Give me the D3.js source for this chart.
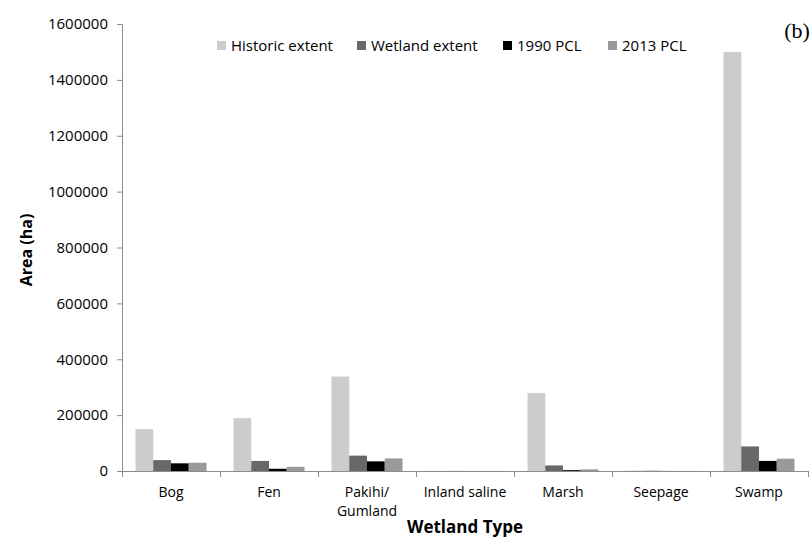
<!DOCTYPE html>
<html>
<head>
<meta charset="utf-8">
<script src="https://cdn.jsdelivr.net/npm/d3@7"></script>
<style>
  html, body { margin: 0; padding: 0; background: #fff; }
  svg { display: block; }
  text { font-family: "Open Sans", Lato, sans-serif; fill: #000; }
</style>
</head>
<body>
<svg id="chart" width="811" height="537"></svg>
<script>
const categories = ["Bog", "Fen", "Pakihi/\nGumland", "Inland saline", "Marsh", "Seepage", "Swamp"];
const seriesNames = ["Historic extent", "Wetland extent", "1990 PCL", "2013 PCL"];
const historicExtent = [150000, 189000, 338000, 800, 279000, 1500, 1500000];
const wetlandExtent = [39000, 36000, 55000, 400, 20000, 1000, 88000];
const pcl1990 = [27500, 8000, 34500, 100, 3000, 200, 36000];
const pcl2013 = [29600, 15000, 45000, 200, 6000, 400, 44000];
const yTicks = [0, 200000, 400000, 600000, 800000, 1000000, 1200000, 1400000, 1600000];
const colors = ["#cccccc", "#686868", "#000000", "#9a9a9a"];

const seriesValues = [historicExtent, wetlandExtent, pcl1990, pcl2013];

const svg = d3.select("#chart");
const mLeft = 122, mRight = 808, mTop = 24, mBottom = 471;

const x0 = d3.scaleBand().domain(categories).range([mLeft, mRight]).paddingInner(0).paddingOuter(0);
const x1 = d3.scaleBand().domain(seriesNames).range([0, x0.bandwidth()]).paddingInner(0).paddingOuter(0.76);
const y = d3.scaleLinear().domain([0, 1600000]).range([mBottom, mTop]);
const color = d3.scaleOrdinal().domain(seriesNames).range(colors);

// bars
const groups = svg.append("g").selectAll("g")
  .data(categories)
  .join("g")
  .attr("transform", d => `translate(${x0(d)},0)`);

groups.selectAll("rect")
  .data((c, i) => seriesNames.map((s, j) => ({ s, v: seriesValues[j][i] })))
  .join("rect")
  .attr("x", d => x1(d.s))
  .attr("width", x1.bandwidth())
  .attr("y", d => y(d.v))
  .attr("height", d => y(0) - y(d.v))
  .attr("fill", d => color(d.s));

// y axis
const yAxis = svg.append("g")
  .attr("transform", `translate(${mLeft},0)`)
  .call(d3.axisLeft(y).tickValues(yTicks).tickSize(5).tickPadding(9).tickFormat(d3.format("d")));
yAxis.select(".domain").attr("stroke", "#8c8c8c").attr("d", `M-5,${mTop}.5H0.5V${mBottom}.5`);
yAxis.selectAll(".tick line").attr("stroke", "#8c8c8c");
yAxis.selectAll(".tick text").style("font-size", "15px").attr("fill", "#000");

// x axis
const xAxis = svg.append("g")
  .attr("transform", `translate(0,${mBottom})`)
  .call(d3.axisBottom(x0).tickSize(0).tickFormat(""));
xAxis.select(".domain").attr("stroke", "#8c8c8c").attr("d", `M${mLeft},0.5H${mRight}`);
xAxis.selectAll(".tick").remove();
const bounds = categories.map(c => x0(c)).concat([mRight]);
xAxis.selectAll("line.sep").data(bounds).join("line")
  .attr("class", "sep")
  .attr("x1", d => Math.round(d) + 0.5).attr("x2", d => Math.round(d) + 0.5)
  .attr("y1", 0).attr("y2", 6)
  .attr("stroke", "#8c8c8c");

// category labels
const labels = svg.append("g").selectAll("text")
  .data(categories)
  .join("text")
  .attr("x", d => x0(d) + x0.bandwidth() / 2)
  .attr("y", 497)
  .attr("text-anchor", "middle")
  .style("font-size", "14px");
labels.each(function(d) {
  const lines = d.split("\n");
  d3.select(this).selectAll("tspan").data(lines).join("tspan")
    .attr("x", x0(d) + x0.bandwidth() / 2)
    .attr("dy", (l, i) => i === 0 ? 0 : 19)
    .text(l => l);
});

// axis titles
svg.append("text")
  .attr("x", 465).attr("y", 533)
  .attr("text-anchor", "middle")
  .style("font-size", "17px").style("font-weight", "bold")
  .text("Wetland Type");

svg.append("text")
  .attr("transform", "translate(32,250) rotate(-90)")
  .attr("text-anchor", "middle")
  .style("font-size", "16px").style("font-weight", "bold")
  .text("Area (ha)");

// legend
const legendX = [217, 357, 503, 608];
const legend = svg.append("g").selectAll("g")
  .data(seriesNames)
  .join("g")
  .attr("transform", (d, i) => `translate(${legendX[i]},41)`);
legend.append("rect").attr("width", 9).attr("height", 9).attr("fill", d => color(d));
legend.append("text").attr("x", 14).attr("y", 10).style("font-size", "15px").text(d => d);

// panel label
svg.append("text")
  .attr("x", 797).attr("y", 38)
  .attr("text-anchor", "middle")
  .style("font-family", "'Liberation Serif', 'DejaVu Serif', serif")
  .style("font-size", "22px")
  .text("(b)");
</script>
</body>
</html>
